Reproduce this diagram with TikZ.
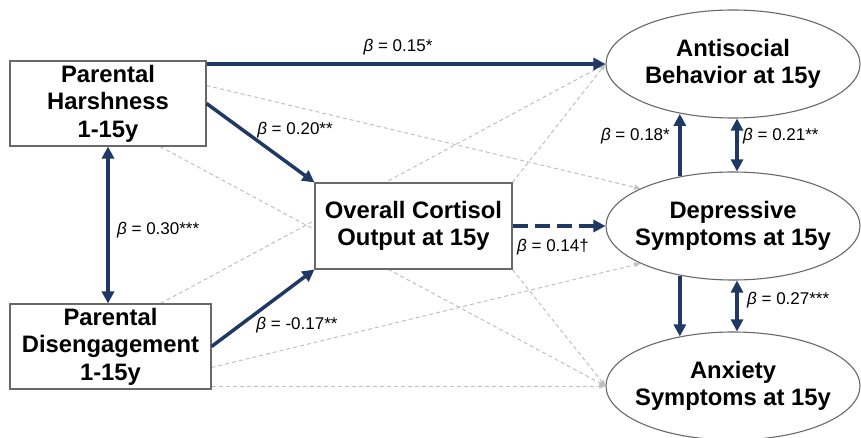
\documentclass[tikz,border=0pt]{standalone}
\usepackage{fontspec}
\setmainfont{Liberation Sans}
\usetikzlibrary{arrows.meta,backgrounds,calc,shapes.geometric}
\definecolor{navy}{RGB}{32,56,100}
\definecolor{lgray}{RGB}{192,192,192}
\definecolor{bgray}{RGB}{105,105,105}
\newcommand{\mybeta}{{\itshape β}}
\begin{document}
\begin{tikzpicture}[x=1pt,y=-1pt,
  box/.style={draw=bgray, line width=1.1pt, fill=white, align=center,
    font=\fontsize{23.8}{27.5}\selectfont\bfseries, inner sep=0pt},
  ell/.style={ellipse, draw=bgray, line width=1.1pt, fill=white,
    minimum width=254pt, minimum height=108pt, inner xsep=-20pt, inner ysep=0pt,
    align=center, font=\fontsize{23.8}{27.5}\selectfont\bfseries},
  sig/.style={draw=navy, line width=3.5pt, -{Triangle[length=12pt,width=12pt]}},
  sigd/.style={draw=navy, line width=3.5pt, {Triangle[length=12pt,width=12pt]}-{Triangle[length=12pt,width=12pt]}},
  sigdash/.style={draw=navy, line width=3.5pt, dash pattern=on 15pt off 7pt, -{Triangle[length=12pt,width=12pt]}},
  ns/.style={draw=lgray, line width=1pt, dash pattern=on 4pt off 3pt, -{Triangle[length=6pt,width=5pt]}},
  lab/.style={font=\fontsize{17}{20}\selectfont, inner sep=1pt}
]
\useasboundingbox (0,0) rectangle (861,438);

% nodes
\node[box, minimum width=196pt, minimum height=85pt] (harsh) at (108,103.5) {Parental\\Harshness\\1-15y};
\node[box, minimum width=201pt, minimum height=85pt] (dis) at (110.5,346.5) {Parental\\Disengagement\\1-15y};
\node[box, minimum width=197pt, minimum height=86pt] (cort) at (413.5,226) {Overall Cortisol\\Output at 15y};
\node[ell] (ant) at (733,64) {Antisocial\\Behavior at 15y};
\node[ell] (dep) at (733,226) {Depressive\\Symptoms at 15y};
\node[ell] (anx) at (733,386) {Anxiety\\Symptoms at 15y};

% non-significant paths
\begin{scope}[on background layer]
\draw[ns] ([yshift=18pt]harsh.east) -- (dep.158);
\draw[ns] ([xshift=52pt]harsh.south) -- (anx.west);
\draw[ns] ([xshift=50pt]dis.north) -- (ant.west);
\draw[ns] ([yshift=-21pt]dis.east) -- (dep.202);
\draw[ns] (dis.south east |- anx.west) -- (anx.west);
\draw[ns] (cort.north east) -- (ant.west);
\draw[ns] (cort.south east) -- (anx.west);
\end{scope}

% significant paths
\draw[sig] (harsh.east |- ant.west) -- (ant.west);
\draw[sig] (harsh.east) -- (cort.north west);
\draw[sig] (dis.east) -- (cort.south west);
\draw[sigd] (harsh.south) -- (harsh.south |- dis.north);
\draw[sigdash] (cort.east) -- (dep.west);
\draw[sig] (dep.137) -- (dep.137 |- ant.224);
\draw[sigd] ([xshift=4pt]ant.south) -- ([xshift=4pt]ant.south |- dep.north);
\draw[sig] (dep.223) -- (dep.223 |- anx.137);
\draw[sigd] ([xshift=4pt]dep.south) -- ([xshift=4pt]dep.south |- anx.north);

% labels
\node[lab] (l15) at (398,47) {\mybeta{} = 0.15*};
\node[lab] (l20) at (295,130) {\mybeta{} = 0.20**};
\node[lab, anchor=west] (l30) at (116,230) {\mybeta{} = 0.30***};
\node[lab] (l17) at (297,325) {\mybeta{} = -0.17**};
\node[lab] (l14) at (553,247) {\mybeta{} = 0.14†};
\node[lab, anchor=east] (l18) at (671,136) {\mybeta{} = 0.18*};
\node[lab, anchor=west] (l21) at (742,136) {\mybeta{} = 0.21**};
\node[lab, anchor=west] (l27) at (746,300) {\mybeta{} = 0.27***};
\end{tikzpicture}
\end{document}
